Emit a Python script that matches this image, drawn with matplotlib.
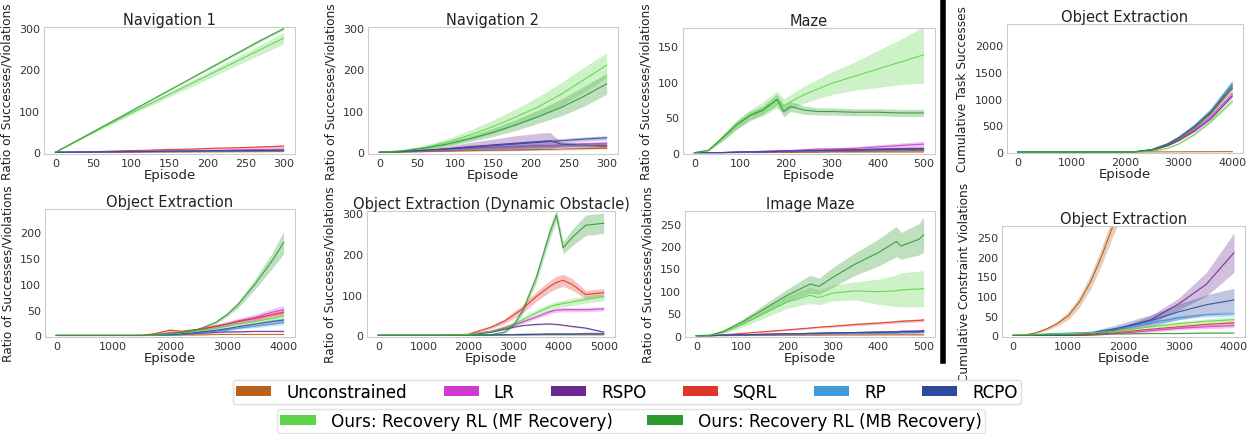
import matplotlib
matplotlib.use('Agg')
import matplotlib.pyplot as plt
from matplotlib.patches import Patch
from matplotlib.lines import Line2D
import numpy as np

# 方法名称与颜色
methods = ["Unconstrained", "LR", "RSPO", "SQRL", "RP", "RCPO", "MF", "MB"]
labels = ["Unconstrained", "LR", "RSPO", "SQRL", "RP", "RCPO",
          "Ours: Recovery RL (MF Recovery)", "Ours: Recovery RL (MB Recovery)"]
colors = {"Unconstrained": "#b8621b", "LR": "#d03ad0", "RSPO": "#6b2a8f", "SQRL": "#e0352b",
          "RP": "#3d9bd6", "RCPO": "#2c4aa0", "MF": "#5ed44a", "MB": "#2e9a2e"}

# ---- Navigation 1 ----
nav1_x = [0, 30, 60, 90, 120, 150, 180, 210, 240, 270, 300]
nav1_mean = {
    "Unconstrained": [0, 0.2, 0.4, 0.6, 0.8, 1, 1.2, 1.4, 1.6, 1.8, 2],
    "LR": [0, 0.5, 1, 2, 3, 3.5, 4, 5, 6, 7, 8],
    "RSPO": [0, 0.5, 1, 1.5, 2, 2.5, 3, 3.5, 4, 4.5, 5],
    "SQRL": [0, 1, 2, 4, 5, 7, 8, 10, 11, 13, 15],
    "RP": [0, 0.4, 0.8, 1.2, 1.6, 2, 2.4, 2.8, 3.2, 3.6, 4],
    "RCPO": [0, 0.5, 1, 1.5, 2, 2.5, 3, 3.5, 4, 4.5, 5],
    "MF": [0, 29, 58, 86, 113, 140, 167, 194, 221, 248, 275],
    "MB": [0, 30, 60, 90, 120, 150, 180, 210, 240, 270, 298],
}
nav1_sd = {
    "Unconstrained": [0, 0, 0, 0, 0, 0.5, 0.5, 0.5, 0.5, 0.5, 0.5],
    "LR": [0, 0.5, 0.5, 1, 1, 1, 1.5, 1.5, 2, 2, 2],
    "RSPO": [0, 0.3, 0.5, 0.5, 1, 1, 1, 1, 1.5, 1.5, 1.5],
    "SQRL": [0, 0.5, 1, 1, 1.5, 1.5, 2, 2, 2.5, 2.5, 3],
    "RP": [0, 0.3, 0.5, 0.5, 0.8, 1, 1, 1, 1.2, 1.2, 1.5],
    "RCPO": [0, 0.3, 0.5, 0.5, 1, 1, 1, 1, 1.5, 1.5, 1.5],
    "MF": [0, 2, 3, 4, 5, 6, 8, 9, 10, 12, 14],
    "MB": [0, 1, 1, 2, 2, 2, 2, 3, 3, 3, 3],
}

# ---- Navigation 2 ----
nav2_x = [0, 30, 60, 90, 120, 150, 180, 210, 225, 240, 270, 300]
nav2_mean = {
    "Unconstrained": [0, 1, 2, 3, 4, 5, 6, 7, 7, 8, 9, 10],
    "LR": [0, 2, 4, 7, 10, 12, 14, 16, 17, 18, 20, 22],
    "RSPO": [0, 2, 5, 9, 14, 18, 22, 26, 28, 20, 18, 15],
    "SQRL": [0, 2, 4, 6, 9, 11, 13, 15, 15, 16, 17, 15],
    "RP": [0, 2, 4, 6, 8, 10, 12, 14, 15, 16, 18, 20],
    "RCPO": [0, 2, 5, 8, 12, 16, 20, 24, 26, 28, 32, 35],
    "MF": [0, 4, 12, 25, 42, 62, 85, 110, 125, 140, 175, 210],
    "MB": [0, 3, 10, 20, 33, 48, 66, 86, 97, 108, 135, 165],
}
nav2_sd = {
    "Unconstrained": [0, 0.5, 1, 1, 1, 1.5, 1.5, 2, 2, 2, 2, 2],
    "LR": [0, 1, 2, 3, 3, 4, 4, 5, 5, 5, 5, 5],
    "RSPO": [0, 1, 3, 6, 10, 14, 18, 20, 20, 5, 5, 5],
    "SQRL": [0, 1, 2, 3, 3, 4, 4, 4, 4, 4, 5, 5],
    "RP": [0, 1, 2, 2, 3, 3, 4, 4, 4, 4, 5, 5],
    "RCPO": [0, 1, 2, 3, 4, 4, 5, 5, 5, 5, 5, 5],
    "MF": [0, 2, 5, 8, 12, 16, 20, 24, 26, 28, 30, 30],
    "MB": [0, 1, 3, 5, 7, 10, 13, 16, 18, 20, 24, 25],
}

# ---- Maze ----
maze_x = [0, 30, 60, 90, 120, 150, 180, 195, 210, 240, 270, 300, 350, 400, 450, 500]
maze_mean = {
    "Unconstrained": [0, 0, 0, 0, 0, 0, 0.5, 0.5, 0.5, 0.5, 0.5, 1, 1, 1, 1, 1],
    "LR": [0, 0, 0, 1, 1, 2, 3, 3, 3, 4, 5, 5, 6, 8, 10, 12],
    "RSPO": [0, 0, 0, 0.5, 1, 1, 1.5, 2, 2, 2.5, 3, 3.5, 4, 5, 5.5, 6],
    "SQRL": [0, 0, 0, 0, 0.5, 0.5, 1, 1, 1, 1.5, 1.5, 2, 2, 2.5, 3, 3],
    "RP": [0, 0, 0, 0.5, 0.5, 1, 1, 1.5, 1.5, 2, 2, 2.5, 3, 3, 3.5, 4],
    "RCPO": [0, 0, 0, 0.5, 1, 1, 1.5, 2, 2, 2.5, 3, 3, 3.5, 4, 4.5, 5],
    "MF": [0, 3, 20, 38, 52, 62, 75, 66, 72, 82, 90, 98, 108, 118, 128, 138],
    "MB": [0, 3, 20, 38, 52, 60, 75, 58, 65, 60, 58, 58, 57, 57, 56, 56],
}
maze_sd = {
    "Unconstrained": [0, 0, 0, 0, 0, 0, 0.3, 0.3, 0.3, 0.3, 0.3, 0.5, 0.5, 0.5, 0.5, 0.5],
    "LR": [0, 0, 0, 0.5, 0.5, 1, 1, 1, 1, 1.5, 2, 2, 2.5, 3, 3.5, 4],
    "RSPO": [0, 0, 0, 0.3, 0.5, 0.5, 0.8, 1, 1, 1, 1.2, 1.5, 1.5, 2, 2, 2],
    "SQRL": [0, 0, 0, 0, 0.3, 0.3, 0.5, 0.5, 0.5, 0.5, 0.8, 1, 1, 1, 1, 1],
    "RP": [0, 0, 0, 0.3, 0.3, 0.5, 0.5, 0.5, 0.5, 1, 1, 1, 1, 1, 1.5, 1.5],
    "RCPO": [0, 0, 0, 0.3, 0.5, 0.5, 0.5, 1, 1, 1, 1, 1.5, 1.5, 1.5, 2, 2],
    "MF": [0, 1, 4, 6, 8, 10, 12, 10, 10, 12, 14, 16, 20, 26, 32, 40],
    "MB": [0, 1, 4, 6, 6, 6, 8, 8, 7, 6, 5, 5, 5, 5, 5, 5],
}

# ---- Object Extraction (ratio) ----
obj_x = [0, 500, 1000, 1500, 1700, 2000, 2200, 2500, 2800, 3000, 3200, 3500, 3800, 4000]
obj_mean = {
    "Unconstrained": [0, 0, 0, 0, 0, 1, 1, 1, 2, 2, 2, 2, 2, 2],
    "LR": [0, 0, 0, 0, 1, 5, 6, 10, 17, 22, 28, 35, 45, 50],
    "RSPO": [0, 0, 0, 0, 0, 1, 2, 4, 6, 7, 7, 8, 8, 8],
    "SQRL": [0, 0, 0, 0, 3, 10, 8, 12, 18, 22, 27, 33, 40, 45],
    "RP": [0, 0, 0, 0, 0, 1, 2, 5, 8, 11, 14, 18, 22, 25],
    "RCPO": [0, 0, 0, 0, 0, 2, 3, 6, 10, 13, 17, 22, 27, 30],
    "MF": [0, 0, 0, 0, 0, 3, 5, 9, 14, 18, 22, 27, 33, 38],
    "MB": [0, 0, 0, 0, 1, 4, 6, 12, 25, 40, 60, 100, 145, 180],
}
obj_sd = {
    "Unconstrained": [0, 0, 0, 0, 0, 0.5, 0.5, 0.5, 0.5, 0.5, 0.5, 0.5, 0.5, 0.5],
    "LR": [0, 0, 0, 0, 0.5, 2, 2, 3, 4, 5, 5, 6, 7, 8],
    "RSPO": [0, 0, 0, 0, 0, 0.5, 0.5, 1, 1, 1, 1, 1, 1, 1],
    "SQRL": [0, 0, 0, 0, 1, 3, 2, 2, 3, 3, 4, 4, 5, 5],
    "RP": [0, 0, 0, 0, 0, 0.5, 1, 1, 2, 2, 2, 3, 3, 4],
    "RCPO": [0, 0, 0, 0, 0, 1, 1, 2, 2, 3, 3, 3, 4, 4],
    "MF": [0, 0, 0, 0, 0, 1, 1, 2, 2, 3, 3, 3, 4, 4],
    "MB": [0, 0, 0, 0, 0, 1, 2, 2, 3, 4, 6, 10, 15, 22],
}

# ---- Object Extraction (Dynamic Obstacle) ----
dyn_x = [0, 500, 1000, 1500, 2000, 2500, 2800, 3000, 3200, 3500, 3800, 3950, 4100, 4300, 4600, 5000]
dyn_mean = {
    "Unconstrained": [0, 0, 0, 0, 0, 0.5, 1, 1, 1, 1.5, 1.5, 1.5, 1.5, 1.5, 1.5, 1.5],
    "LR": [0, 0, 0, 0, 2, 10, 18, 25, 33, 45, 58, 62, 63, 63, 63, 65],
    "RSPO": [0, 0, 0, 0, 1, 8, 15, 20, 24, 27, 28, 27, 25, 22, 18, 8],
    "SQRL": [0, 0, 0, 0, 3, 20, 35, 50, 65, 95, 120, 130, 135, 125, 100, 105],
    "RP": [0, 0, 0, 0, 0.5, 1, 2, 2, 3, 3, 4, 4, 4, 4, 5, 5],
    "RCPO": [0, 0, 0, 0, 0.5, 1, 1.5, 2, 2, 2.5, 3, 3, 3, 3, 3.5, 3.5],
    "MF": [0, 0, 0, 0, 2, 10, 20, 28, 38, 55, 70, 75, 78, 82, 88, 95],
    "MB": [0, 0, 0, 0, 0, 2, 8, 25, 60, 140, 250, 295, 215, 240, 270, 275],
}
dyn_sd = {
    "Unconstrained": [0, 0, 0, 0, 0, 0.3, 0.5, 0.5, 0.5, 0.5, 0.5, 0.5, 0.5, 0.5, 0.5, 0.5],
    "LR": [0, 0, 0, 0, 1, 2, 3, 3, 4, 4, 5, 5, 5, 5, 5, 5],
    "RSPO": [0, 0, 0, 0, 0.5, 1, 1, 1, 1, 1.5, 1.5, 1.5, 1.5, 1.5, 1.5, 1.5],
    "SQRL": [0, 0, 0, 0, 1, 4, 6, 8, 10, 12, 14, 15, 15, 14, 10, 10],
    "RP": [0, 0, 0, 0, 0.3, 0.5, 1, 1, 1, 1, 1, 1, 1, 1, 1, 1],
    "RCPO": [0, 0, 0, 0, 0.3, 0.5, 0.5, 1, 1, 1, 1, 1, 1, 1, 1, 1],
    "MF": [0, 0, 0, 0, 1, 3, 4, 5, 6, 7, 8, 8, 8, 9, 9, 10],
    "MB": [0, 0, 0, 0, 0, 1, 3, 5, 8, 12, 15, 15, 15, 20, 25, 25],
}

# ---- Image Maze ----
imaze_x = [0, 30, 60, 100, 150, 200, 250, 270, 300, 350, 400, 440, 450, 490, 500]
imaze_mean = {
    "Unconstrained": [0, 0, 0, 0.5, 0.5, 1, 1, 1, 1.5, 1.5, 2, 2, 2, 2, 2],
    "LR": [0, 0, 1, 2, 3, 4, 5, 6, 6, 7, 8, 9, 10, 11, 12],
    "RSPO": [0, 0, 1, 2, 3, 4, 5, 5, 6, 6, 7, 8, 8, 9, 10],
    "SQRL": [0, 0, 2, 5, 9, 13, 17, 19, 21, 25, 28, 31, 32, 34, 35],
    "RP": [0, 0, 1, 1.5, 2, 3, 3.5, 4, 4.5, 5, 6, 6.5, 7, 7.5, 8],
    "RCPO": [0, 0, 1, 2, 3, 4, 5, 5, 6, 7, 8, 8, 9, 9, 10],
    "MF": [0, 1, 8, 25, 50, 75, 90, 85, 95, 100, 98, 100, 102, 104, 105],
    "MB": [0, 1, 10, 30, 60, 90, 115, 110, 130, 160, 185, 210, 200, 215, 225],
}
imaze_sd = {
    "Unconstrained": [0, 0, 0, 0.3, 0.3, 0.5, 0.5, 0.5, 0.5, 0.5, 1, 1, 1, 1, 1],
    "LR": [0, 0, 0.5, 1, 1, 1.5, 1.5, 2, 2, 2, 2.5, 2.5, 3, 3, 3],
    "RSPO": [0, 0, 0.5, 1, 1, 1.5, 1.5, 2, 2, 2, 2.5, 2.5, 3, 3, 3],
    "SQRL": [0, 0, 1, 1, 1.5, 2, 2, 2, 2.5, 3, 3, 3, 3.5, 3.5, 4],
    "RP": [0, 0, 0.5, 0.5, 1, 1, 1, 1, 1.5, 1.5, 1.5, 2, 2, 2, 2],
    "RCPO": [0, 0, 0.5, 1, 1, 1, 1.5, 1.5, 2, 2, 2, 2.5, 2.5, 3, 3],
    "MF": [0, 1, 3, 6, 10, 14, 18, 16, 18, 20, 28, 35, 38, 40, 40],
    "MB": [0, 1, 3, 6, 10, 14, 20, 18, 22, 25, 30, 34, 30, 35, 40],
}

# ---- Cumulative Task Successes ----
succ_x = [0, 500, 1000, 1500, 2000, 2200, 2500, 2800, 3000, 3300, 3600, 4000]
succ_mean = {
    "Unconstrained": [0, 0, 0, 0, 0, 0, 1, 2, 3, 4, 5, 6],
    "LR": [0, 0, 0, 0, 0, 4, 35, 130, 230, 420, 660, 1100],
    "RSPO": [0, 0, 0, 0, 0, 3, 30, 120, 215, 395, 625, 1050],
    "SQRL": [0, 0, 0, 0, 0, 5, 40, 145, 250, 460, 720, 1200],
    "RP": [0, 0, 0, 0, 0, 6, 45, 160, 275, 500, 780, 1300],
    "RCPO": [0, 0, 0, 0, 0, 5, 42, 150, 265, 480, 750, 1250],
    "MF": [0, 0, 0, 0, 0, 0, 10, 70, 150, 330, 570, 950],
    "MB": [0, 0, 0, 0, 0, 5, 40, 145, 255, 465, 725, 1200],
}
succ_sd = {
    "Unconstrained": [0, 0, 0, 0, 0, 0, 0.5, 1, 1, 1, 1, 1],
    "LR": [0, 0, 0, 0, 0, 1, 5, 10, 15, 20, 25, 35],
    "RSPO": [0, 0, 0, 0, 0, 1, 5, 10, 15, 20, 25, 35],
    "SQRL": [0, 0, 0, 0, 0, 1, 5, 10, 15, 20, 25, 35],
    "RP": [0, 0, 0, 0, 0, 1, 5, 10, 15, 20, 25, 35],
    "RCPO": [0, 0, 0, 0, 0, 1, 5, 10, 15, 20, 25, 35],
    "MF": [0, 0, 0, 0, 0, 0, 3, 8, 12, 15, 20, 30],
    "MB": [0, 0, 0, 0, 0, 1, 5, 10, 15, 20, 25, 35],
}

# ---- Cumulative Constraint Violations ----
viol_x = [0, 200, 400, 600, 800, 1000, 1200, 1400, 1600, 1800, 2000, 2500, 3000, 3500, 4000]
viol_unc_x = [0, 200, 400, 600, 800, 1000, 1200, 1400, 1600, 1800, 2000]
viol_unc_mean = [0, 1, 6, 16, 30, 50, 85, 135, 200, 275, 350]
viol_unc_sd = [0, 1, 2, 4, 6, 10, 14, 18, 22, 26, 30]
viol_mean = {
    "LR": [0, 0, 0, 0, 0, 0, 0, 1, 2, 4, 6, 12, 18, 22, 25],
    "RSPO": [0, 0, 0, 0, 0, 0, 0, 2, 6, 12, 20, 40, 80, 130, 210],
    "SQRL": [0, 0, 0, 0, 0, 0, 0, 1, 3, 6, 9, 16, 22, 28, 32],
    "RP": [0, 0, 2, 4, 5, 6, 7, 8, 10, 15, 20, 32, 45, 52, 55],
    "RCPO": [0, 0, 0, 0, 0, 0, 2, 6, 12, 16, 22, 38, 60, 78, 90],
    "MF": [0, 1, 2, 3, 4, 5, 6, 7, 8, 10, 14, 22, 30, 36, 40],
    "MB": [0, 0, 1, 1, 2, 2, 3, 3, 3, 4, 4, 5, 5, 6, 6],
}
viol_sd = {
    "LR": [0, 0, 0, 0, 0, 0, 0, 0.5, 1, 1, 2, 3, 4, 5, 5],
    "RSPO": [0, 0, 0, 0, 0, 0, 0, 1, 2, 3, 5, 10, 15, 30, 50],
    "SQRL": [0, 0, 0, 0, 0, 0, 0, 0.5, 1, 1, 2, 2, 3, 3, 4],
    "RP": [0, 0, 0.5, 1, 1, 1, 1, 1, 2, 2, 3, 4, 5, 5, 6],
    "RCPO": [0, 0, 0, 0, 0, 0, 1, 3, 5, 8, 10, 15, 20, 25, 30],
    "MF": [0, 0.5, 0.5, 1, 1, 1, 1, 1, 2, 2, 3, 4, 5, 6, 7],
    "MB": [0, 0, 0.5, 0.5, 0.5, 0.5, 1, 1, 1, 1, 1, 1, 1, 1, 1],
}

W, H = 1253, 435
fig = plt.figure(figsize=(W / 100, H / 100), dpi=100)


def add_ax(left, top, right, bottom):
    # 像素坐标 -> figure 坐标
    return fig.add_axes([left / W, 1 - bottom / H, (right - left) / W, (bottom - top) / H])


def style(ax, title, xticks, ylim, yticks, ylabel):
    ax.set_title(title, fontsize=10.5, pad=2, color="#222222")
    ax.set_xticks(xticks)
    ax.set_ylim(*ylim)
    ax.set_yticks(yticks)
    ax.tick_params(length=0, labelsize=8, colors="#333333", pad=3)
    ax.set_xlabel("Episode", fontsize=9.5, labelpad=0, color="#222222")
    ax.set_ylabel(ylabel, fontsize=8.7, labelpad=4, color="#222222")
    for sp in ax.spines.values():
        sp.set_color("#cccccc")
        sp.set_linewidth(0.8)


def draw(ax, x, mean, sd, keys=methods):
    x = np.array(x)
    for k in keys:
        if k not in mean:
            continue
        m = np.array(mean[k], dtype=float)
        s = np.array(sd[k], dtype=float)
        ax.fill_between(x, m - s, m + s, color=colors[k], alpha=0.3, lw=0)
        ax.plot(x, m, color=colors[k], lw=0.8, alpha=0.9)


ratio = "Ratio of Successes/Violations"

ax = add_ax(44, 28, 295, 155)
draw(ax, nav1_x, nav1_mean, nav1_sd)
style(ax, "Navigation 1", [0, 50, 100, 150, 200, 250, 300], (-4, 302), [0, 100, 200, 300], ratio)

ax = add_ax(368, 28, 618, 155)
draw(ax, nav2_x, nav2_mean, nav2_sd)
style(ax, "Navigation 2", [0, 50, 100, 150, 200, 250, 300], (-4, 302), [0, 100, 200, 300], ratio)

ax = add_ax(683, 29, 935, 155)
draw(ax, maze_x, maze_mean, maze_sd)
style(ax, "Maze", [0, 100, 200, 300, 400, 500], (-2, 176), [0, 50, 100, 150], ratio)

ax = add_ax(1007, 25, 1243, 154)
draw(ax, succ_x, succ_mean, succ_sd)
style(ax, "Object Extraction", [0, 1000, 2000, 3000, 4000], (-20, 2400), [0, 500, 1000, 1500, 2000],
      "Cumulative Task Successes")

ax = add_ax(45, 210, 295, 338)
draw(ax, obj_x, obj_mean, obj_sd)
style(ax, "Object Extraction", [0, 1000, 2000, 3000, 4000], (-3, 245), [0, 50, 100, 150, 200], ratio)

ax = add_ax(367, 212, 615, 338)
draw(ax, dyn_x, dyn_mean, dyn_sd)
style(ax, "Object Extraction (Dynamic Obstacle)", [0, 1000, 2000, 3000, 4000, 5000], (-4, 305),
      [0, 100, 200, 300], ratio)

ax = add_ax(685, 212, 935, 338)
draw(ax, imaze_x, imaze_mean, imaze_sd)
style(ax, "Image Maze", [0, 100, 200, 300, 400, 500], (-3, 278), [0, 50, 100, 150, 200, 250], ratio)

ax = add_ax(1002, 227, 1245, 338)
m = np.array(viol_unc_mean)
s = np.array(viol_unc_sd)
ax.fill_between(viol_unc_x, m - s, m + s, color=colors["Unconstrained"], alpha=0.3, lw=0)
ax.plot(viol_unc_x, m, color=colors["Unconstrained"], lw=0.8)
draw(ax, viol_x, viol_mean, viol_sd)
ax.set_xlim(-200, 4200)
style(ax, "Object Extraction", [0, 1000, 2000, 3000, 4000], (-4, 278), [0, 50, 100, 150, 200, 250],
      "Cumulative Constraint Violations")

# 分隔竖线
fig.add_artist(Line2D([943 / W, 943 / W], [1 - 362 / H, 1.0], transform=fig.transFigure,
                      color="black", lw=4))

# 图例
h1 = [Patch(facecolor=colors[k], label=l) for k, l in zip(methods[:6], labels[:6])]
h2 = [Patch(facecolor=colors[k], label=l) for k, l in zip(methods[6:], labels[6:])]
leg1 = fig.legend(handles=h1, loc="center", bbox_to_anchor=(627 / W, 1 - 393 / H), ncol=6,
                  fontsize=12, handlelength=2.1, handleheight=0.6, handletextpad=0.9,
                  columnspacing=2.2, frameon=True, edgecolor="#dddddd", borderpad=0.2)
leg2 = fig.legend(handles=h2, loc="center", bbox_to_anchor=(631 / W, 1 - 422 / H), ncol=2,
                  fontsize=12.2, handlelength=2.1, handleheight=0.6, handletextpad=0.9,
                  columnspacing=2.0, frameon=True, edgecolor="#dddddd", borderpad=0.2)
fig.add_artist(leg1)

fig.savefig("out.png", dpi=100)
